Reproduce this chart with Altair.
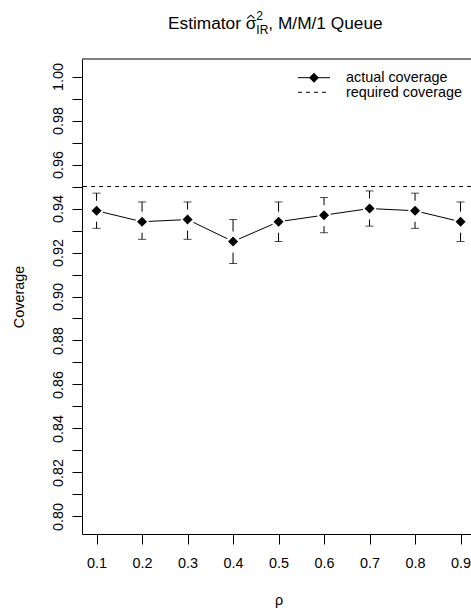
import altair as alt
import pandas as pd

# Coverage of the sigma^2_IR estimator for the M/M/1 queue, with CI bounds
rho = [0.1, 0.2, 0.3, 0.4, 0.5, 0.6, 0.7, 0.8, 0.9]
coverage = [0.939, 0.934, 0.935, 0.925, 0.934, 0.937, 0.940, 0.939, 0.934]
ci_lower = [0.931, 0.926, 0.926, 0.915, 0.925, 0.929, 0.932, 0.931, 0.925]
ci_upper = [0.947, 0.943, 0.943, 0.935, 0.943, 0.945, 0.948, 0.947, 0.943]
required = [0.95]

y_ticks = [round(0.80 + 0.01 * i, 2) for i in range(21)]
x_ticks = [0.1, 0.2, 0.3, 0.4, 0.5, 0.6, 0.7, 0.8, 0.9]
legend_labels = ["actual coverage", "required coverage"]

W, H = 389, 475
FONT = "Liberation Sans"
FS = 14.4          # base text size
TF = 17.3          # main title size
SF = 12.1          # super/subscript size

df = pd.DataFrame({"rho": rho, "coverage": coverage,
                   "lower": ci_lower, "upper": ci_upper})
df_req = pd.DataFrame({"coverage": required})
one = pd.DataFrame({"k": [0]})

x_scale = alt.Scale(domain=[0.068, 0.923], nice=False, zero=False)
y_scale = alt.Scale(domain=[0.792, 1.008], nice=False, zero=False)

x_axis = alt.Axis(values=x_ticks, format=".1f", title="ρ", grid=False,
                  tickSize=10, labelPadding=12.5, labelFlush=False,
                  titleX=196.5, titleY=70, titleAlign="center",
                  titleBaseline="alphabetic")
y_axis = alt.Axis(values=y_ticks, grid=False, tickSize=10, labelPadding=7,
                  labelAngle=-90, labelAlign="center", labelBaseline="bottom",
                  labelFlush=False, labelOverlap=False,
                  labelExpr="round(datum.value * 100) % 2 == 0 ? format(datum.value, '.2f') : ''",
                  title="Coverage", titleX=-63, titleY=H / 2, titleAngle=-90,
                  titleAlign="center", titleBaseline="middle")

X = alt.X("rho:Q", scale=x_scale, axis=x_axis)


def Y(field):
    return alt.Y(f"{field}:Q", scale=y_scale, axis=y_axis)


base = alt.Chart(df)

req_line = alt.Chart(df_req).mark_rule(color="black", strokeWidth=1, strokeDash=[4, 4]).encode(
    y=Y("coverage"))

line = base.mark_line(color="black", strokeWidth=1).encode(x=X, y=Y("coverage"))
gaps = base.mark_circle(color="white", opacity=1, size=180).encode(x=X, y=Y("coverage"))
pts = base.mark_point(shape="diamond", filled=True, color="black", opacity=1, size=100).encode(
    x=X, y=Y("coverage"))

bar_up = base.mark_rule(color="black", strokeWidth=1, y2Offset=-10).encode(
    x=X, y=Y("upper"), y2="coverage:Q")
bar_lo = base.mark_rule(color="black", strokeWidth=1, y2Offset=11).encode(
    x=X, y=Y("lower"), y2="coverage:Q")
cap_up = base.mark_tick(color="black", orient="horizontal", size=8, thickness=1).encode(
    x=X, y=Y("upper"))
cap_lo = base.mark_tick(color="black", orient="horizontal", size=8, thickness=1).encode(
    x=X, y=Y("lower"))

# frame line along the top of the plot region
top_border = alt.Chart(one).mark_rule(color="black", strokeWidth=1).encode(
    x=alt.value(0), x2=alt.value(W), y=alt.value(0))

# legend
leg_line = alt.Chart(one).mark_rule(color="black", strokeWidth=1).encode(
    x=alt.value(216), x2=alt.value(248), y=alt.value(18.7))
leg_pt = alt.Chart(one).mark_point(shape="diamond", filled=True, color="black",
                                   opacity=1, size=100).encode(
    x=alt.value(232), y=alt.value(18.7))
leg_dash = alt.Chart(one).mark_rule(color="black", strokeWidth=1, strokeDash=[4, 4]).encode(
    x=alt.value(216), x2=alt.value(248), y=alt.value(33.3))
leg_txt1 = alt.Chart(one).mark_text(text=legend_labels[0], align="left", baseline="alphabetic",
                                    font=FONT, fontSize=FS, color="black").encode(
    x=alt.value(264), y=alt.value(23.3))
leg_txt2 = alt.Chart(one).mark_text(text=legend_labels[1], align="left", baseline="alphabetic",
                                    font=FONT, fontSize=FS, color="black").encode(
    x=alt.value(264), y=alt.value(37.9))


# title: Estimator sigma-hat^2_IR, M/M/1 Queue
def title_piece(txt, x, y, size, align="left"):
    return alt.Chart(one).mark_text(text=txt, align=align, baseline="alphabetic",
                                    font=FONT, fontSize=size, color="black").encode(
        x=alt.value(x), y=alt.value(y))


tx0 = 168 - 82
ty = 29.3 - 59
t_est = title_piece("Estimator", tx0, ty, TF)
sig_x = tx0 + 4.5 * TF
t_sig = title_piece("σ", sig_x, ty, TF)
# circumflex accent over sigma
t_hat = alt.Chart(one).mark_point(shape="M-1,0.45L0,-0.45L1,0.45", filled=False,
                                  color="black", strokeWidth=1.1, opacity=1, size=52).encode(
    x=alt.value(sig_x + 5), y=alt.value(ty - 12.5))
t_sup = title_piece("2", sig_x + 10.5, ty - 9, SF)
t_sub = title_piece("IR", sig_x + 10.5, ty + 5, SF)
t_rest = title_piece(", M/M/1 Queue", sig_x + 22.5, ty, TF)

chart = alt.layer(
    req_line, line, gaps, pts, bar_up, bar_lo, cap_up, cap_lo, top_border,
    leg_line, leg_pt, leg_dash, leg_txt1, leg_txt2,
    t_est, t_sig, t_hat, t_sup, t_sub, t_rest,
).properties(
    width=W, height=H,
    autosize=alt.AutoSizeParams(type="none"),
    padding={"left": 82, "top": 59, "right": 0, "bottom": 79},
    background="white",
).configure(font=FONT).configure_view(stroke=None).configure_axis(
    domainColor="black", domainWidth=1, tickColor="black", tickWidth=1,
    labelColor="black", titleColor="black", labelFont=FONT, titleFont=FONT,
    labelFontSize=FS, titleFontSize=FS, titleFontWeight="normal",
)

chart.save("out.html", embed_options={"renderer": "svg", "actions": False})
